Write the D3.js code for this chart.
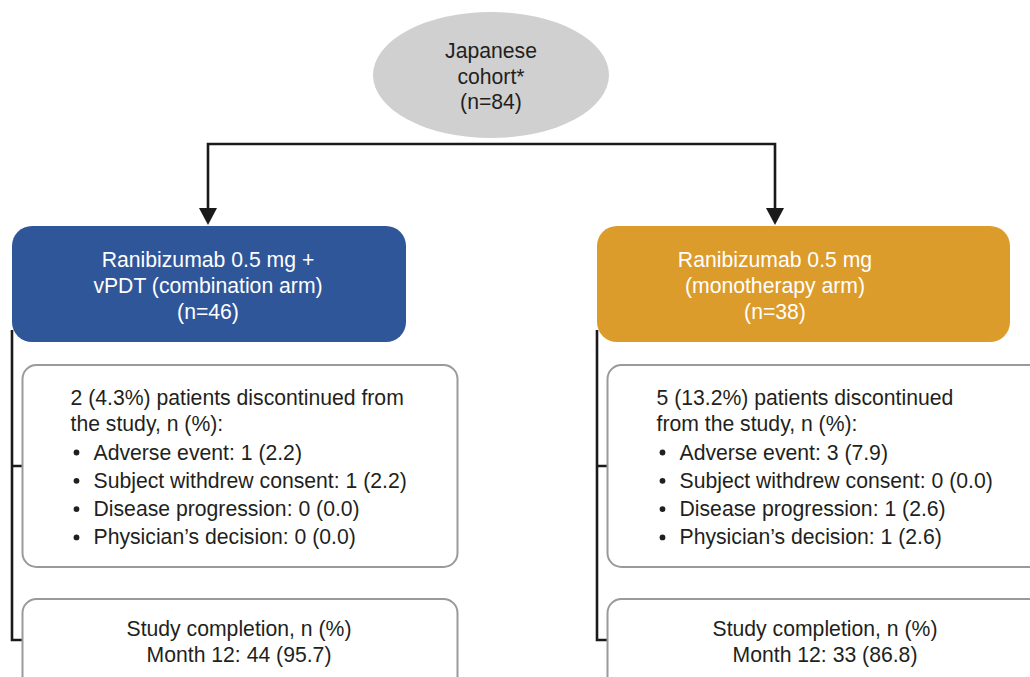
<!DOCTYPE html>
<html><head><meta charset="utf-8">
<script src="https://cdn.jsdelivr.net/npm/d3@7"></script>
<style>body{margin:0;background:#fff}svg{display:block}text{font-family:"Liberation Sans",Arial,sans-serif;}</style>
</head><body>
<svg id="c" width="1030" height="677"></svg>
<script>
const rootLabel = ["Japanese", "cohort*", "(n=84)"];
const arms = ["combination", "monotherapy"];
const armTitles = [["Ranibizumab 0.5 mg +", "vPDT (combination arm)"], ["Ranibizumab 0.5 mg", "(monotherapy arm)"]];
const armN = [46, 38];
const armColors = ["#30569A", "#DC9C2B"];
const discN = [2, 5];
const discPct = ["4.3", "13.2"];
const discHeader = [["patients discontinued from", "the study, n (%):"], ["patients discontinued", "from the study, n (%):"]];
const reasons = ["Adverse event", "Subject withdrew consent", "Disease progression", "Physician\u2019s decision"];
const reasonN = [[1, 1, 0, 0], [3, 0, 1, 1]];
const reasonPct = [["2.2", "2.2", "0.0", "0.0"], ["7.9", "0.0", "2.6", "2.6"]];
const completionN = [44, 33];
const completionPct = ["95.7", "86.8"];

const svg = d3.select("#c");
const fs = 21.2;
const line = "#1a1a1a";

const xArm = d3.scaleOrdinal().domain(arms).range([12, 597]);
const armW = d3.scaleOrdinal().domain(arms).range([394, 413]);
const boxW = d3.scaleOrdinal().domain(arms).range([435, 440]);

const cx = 491;
svg.append("ellipse").attr("cx", cx).attr("cy", 75).attr("rx", 118).attr("ry", 63).attr("fill", "#D1D0D1");
svg.append("text").attr("x", cx).attr("text-anchor", "middle").attr("font-size", fs).attr("fill", "#231f20")
  .selectAll("tspan").data(rootLabel).join("tspan").attr("x", cx).attr("y", (d, i) => 58 + i * 25.5).text(d => d);

const arrowX = [208, 775];
svg.append("path").attr("d", `M${arrowX[0]},210 V144 H${arrowX[1]} V210`).attr("fill", "none").attr("stroke", line).attr("stroke-width", 2.6);
arrowX.forEach(x => {
  svg.append("path").attr("d", `M${x - 9},208 L${x + 9},208 L${x},225 Z`).attr("fill", line);
});

arms.forEach((a, k) => {
  const x0 = xArm(a);
  const w = armW(a);
  const tcx = arrowX[k];
  svg.append("path").attr("d", `M${x0},330 V640 H${x0 + 11} M${x0},466 H${x0 + 11}`)
    .attr("fill", "none").attr("stroke", line).attr("stroke-width", 2.6);
  svg.append("rect").attr("x", x0).attr("y", 226).attr("width", w).attr("height", 116).attr("rx", 20).attr("fill", armColors[k]);
  const tl = armTitles[k].concat([`(n=${armN[k]})`]);
  svg.append("text").attr("text-anchor", "middle").attr("font-size", fs).attr("fill", "#fff")
    .selectAll("tspan").data(tl).join("tspan").attr("x", tcx).attr("y", (d, i) => 267 + i * 26).text(d => d);

  const bx = x0 + 10.5;
  const bw = boxW(a);
  svg.append("rect").attr("x", bx).attr("y", 365).attr("width", bw).attr("height", 202).attr("rx", 14)
    .attr("fill", "#fff").attr("stroke", "#9a9a9a").attr("stroke-width", 2);
  const tx = bx + (k === 0 ? 48 : 49);
  const hdr = [`${discN[k]} (${discPct[k]}%) ${discHeader[k][0]}`, discHeader[k][1]];
  svg.append("text").attr("font-size", fs).attr("fill", "#231f20")
    .selectAll("tspan").data(hdr).join("tspan").attr("x", tx).attr("y", (d, i) => 405 + i * 25.5).text(d => d);
  const items = reasons.map((r, i) => `${r}: ${reasonN[k][i]} (${reasonPct[k][i]})`);
  const g = svg.append("g");
  items.forEach((t, i) => {
    const y = 459.5 + i * 28.3;
    g.append("circle").attr("cx", tx + 6).attr("cy", y - 7).attr("r", 2.9).attr("fill", "#231f20");
    g.append("text").attr("x", tx + 23).attr("y", y).attr("font-size", fs).attr("fill", "#231f20").text(t);
  });

  svg.append("rect").attr("x", bx).attr("y", 599).attr("width", bw).attr("height", 100).attr("rx", 14)
    .attr("fill", "#fff").attr("stroke", "#9a9a9a").attr("stroke-width", 2);
  const ccx = k === 0 ? 239 : 825;
  const cl = ["Study completion, n (%)", `Month 12: ${completionN[k]} (${completionPct[k]})`];
  svg.append("text").attr("text-anchor", "middle").attr("font-size", fs).attr("fill", "#231f20")
    .selectAll("tspan").data(cl).join("tspan").attr("x", ccx).attr("y", (d, i) => 636 + i * 26).text(d => d);
});
</script>
</body></html>
